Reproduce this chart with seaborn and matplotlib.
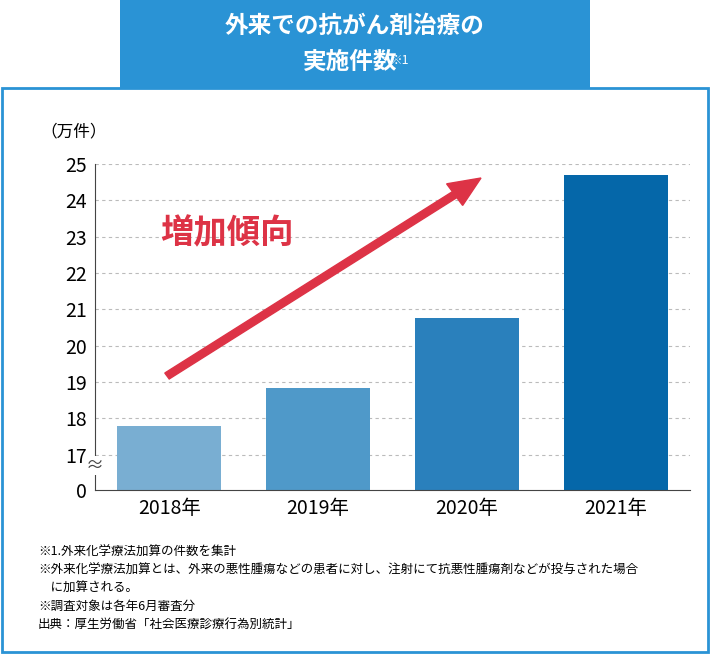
import matplotlib
matplotlib.use("Agg")
import matplotlib.pyplot as plt
import seaborn as sns
import pandas as pd
from matplotlib.patches import Rectangle, FancyArrow

plt.rcParams["font.family"] = "Noto Sans CJK JP"

years = ["2018年", "2019年", "2020年", "2021年"]
values = [17.8, 18.85, 20.75, 24.7]
colors = ["#79aed2", "#4f99c9", "#2a80bc", "#0567a9"]
ytick_vals = [17, 18, 19, 20, 21, 22, 23, 24, 25]
base = 16.03  # position of the "0" tick on the broken axis

df = pd.DataFrame({"year": years, "value": values})

fig = plt.figure(figsize=(7.1, 6.54), dpi=100)
# outer frame and title box
fig.patches.append(Rectangle((2 / 710, 2 / 654), 706 / 710, 564 / 654, transform=fig.transFigure,
                             fill=False, edgecolor="#2a93d5", linewidth=2))
fig.patches.append(Rectangle((120 / 710, 566 / 654), 470 / 710, 88 / 654, transform=fig.transFigure,
                             facecolor="#2a93d5", edgecolor="none"))
fig.text(355 / 710, 628 / 654, "外来での抗がん剤治療の", color="white", fontsize=17, fontweight="bold",
         ha="center", va="center")
fig.text(350 / 710, 592 / 654, "実施件数", color="white", fontsize=17, fontweight="bold",
         ha="center", va="center")
fig.text(389 / 710, 594 / 654, "※1", color="white", fontsize=9, ha="left", va="center")

ax = fig.add_axes([95 / 710, 164 / 654, 595 / 710, 326 / 654])
sns.barplot(data=df, x="year", y="value", hue="year", palette=colors, legend=False,
            width=0.7, saturation=1, ax=ax, zorder=2)
ax.set_ylim(base, 25)
ax.set_yticks([base] + ytick_vals)
ax.set_yticklabels(["0"] + [str(v) for v in ytick_vals], fontsize=14)
ax.tick_params(axis="x", labelsize=14, length=0, pad=6)
ax.tick_params(axis="y", length=0, pad=6)
ax.set_xlabel("")
ax.set_ylabel("")
for v in ytick_vals:
    ax.axhline(v, color="#bbbbbb", linestyle=(0, (3, 3)), linewidth=0.8, zorder=1)
for s in ["top", "right"]:
    ax.spines[s].set_visible(False)
ax.spines["left"].set_color("#444444")
ax.spines["bottom"].set_color("#444444")
# axis break mark
ax.text(0.0, 0.075, "≈", transform=ax.transAxes, fontsize=13, ha="center", va="center",
        color="#444444", zorder=5,
        bbox=dict(facecolor="white", edgecolor="none", pad=0.5))
fig.text(40 / 710, 522 / 654, "（万件）", fontsize=12, ha="left", va="center")

# trend arrow
fig.patches.append(FancyArrow(167 / 710, 278 / 654, 314 / 710, 198 / 654, transform=fig.transFigure,
                              width=0.011, head_width=0.04, head_length=0.045, length_includes_head=True,
                              color="#dd3346"))
fig.text(160 / 710, 420 / 654, "増加傾向", color="#dd3346", fontsize=24, fontweight="bold",
         ha="left", va="center")

notes = [
    "※1.外来化学療法加算の件数を集計",
    "※外来化学療法加算とは、外来の悪性腫瘍などの患者に対し、注射にて抗悪性腫瘍剤などが投与された場合",
    "　に加算される。",
    "※調査対象は各年6月審査分",
    "出典：厚生労働省「社会医療診療行為別統計」",
]
for i, n in enumerate(notes):
    fig.text(38 / 710, (654 - 552 - i * 18) / 654, n, fontsize=9, ha="left", va="center")

fig.savefig("out.png", dpi=100)
